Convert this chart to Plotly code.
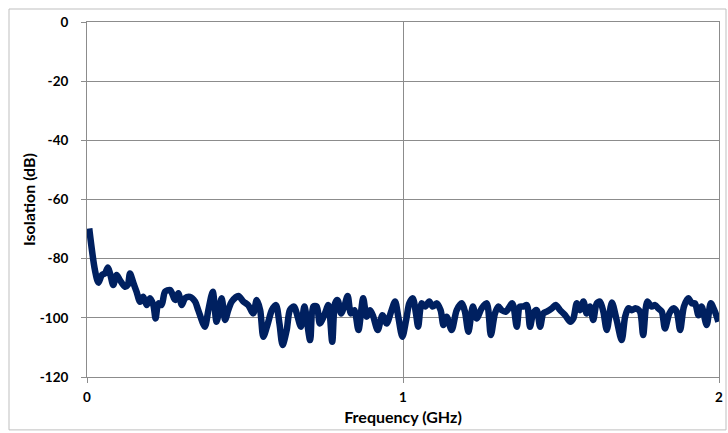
import plotly.graph_objects as go

# Isolation vs frequency
freq_ghz = [
    0.007, 0.025, 0.036, 0.047, 0.057, 0.066, 0.073, 0.083, 0.094, 0.104,
    0.120, 0.129, 0.136, 0.147, 0.157, 0.168, 0.178, 0.189, 0.199, 0.210,
    0.217, 0.226, 0.236, 0.247, 0.263, 0.279, 0.289, 0.300, 0.310, 0.326,
    0.342, 0.352, 0.373, 0.384, 0.398, 0.410, 0.426, 0.437, 0.447, 0.458,
    0.479, 0.495, 0.510, 0.526, 0.537, 0.548, 0.558, 0.571, 0.585, 0.598,
    0.609, 0.619, 0.632, 0.642, 0.655, 0.677, 0.688, 0.706, 0.716, 0.727,
    0.737, 0.753, 0.764, 0.776, 0.785, 0.793, 0.804, 0.814, 0.825, 0.835,
    0.846, 0.859, 0.874, 0.885, 0.896, 0.906, 0.920, 0.935, 0.948, 0.964,
    0.975, 0.985, 0.998, 1.010, 1.020, 1.031, 1.041, 1.048, 1.059, 1.070,
    1.083, 1.094, 1.107, 1.119, 1.128, 1.138, 1.154, 1.170, 1.186, 1.196,
    1.207, 1.221, 1.233, 1.249, 1.265, 1.278, 1.291, 1.302, 1.312, 1.326,
    1.346, 1.360, 1.370, 1.381, 1.392, 1.402, 1.412, 1.423, 1.434, 1.444,
    1.455, 1.471, 1.483, 1.497, 1.513, 1.529, 1.539, 1.550, 1.560, 1.571,
    1.581, 1.592, 1.602, 1.613, 1.623, 1.634, 1.645, 1.661, 1.676, 1.692,
    1.703, 1.713, 1.724, 1.737, 1.750, 1.760, 1.773, 1.787, 1.798, 1.808,
    1.819, 1.829, 1.843, 1.855, 1.866, 1.877, 1.889, 1.903, 1.914, 1.924,
    1.935, 1.945, 1.961, 1.974, 1.987, 1.998,
]

isolation_db = [
    -69.8, -83.8, -88.1, -85.5, -85.0, -83.0, -85.0, -88.9, -85.5, -87.2,
    -89.5, -88.9, -85.0, -88.3, -91.2, -94.6, -92.9, -95.7, -93.4, -95.7,
    -100.2, -95.1, -95.7, -91.2, -90.6, -94.0, -91.7, -95.7, -93.4, -92.9,
    -94.5, -97.4, -103.0, -97.4, -91.2, -101.3, -93.4, -100.7, -97.4, -94.5,
    -92.6, -94.5, -95.7, -98.5, -94.0, -97.4, -106.4, -102.4, -97.4, -95.7,
    -101.9, -109.2, -104.1, -97.4, -96.2, -103.0, -96.2, -107.5, -96.2, -96.2,
    -101.9, -98.5, -95.7, -108.1, -95.1, -94.0, -98.5, -96.2, -92.6, -98.5,
    -97.4, -104.1, -93.4, -99.6, -97.4, -99.6, -104.1, -99.1, -101.9, -97.4,
    -94.5, -99.6, -106.4, -100.7, -95.1, -93.4, -98.5, -103.0, -95.1, -96.2,
    -94.5, -96.2, -95.1, -97.4, -102.4, -99.6, -104.1, -97.4, -95.1, -97.9,
    -104.7, -96.2, -100.2, -96.8, -95.1, -105.8, -98.5, -96.2, -97.4, -97.9,
    -95.1, -103.0, -96.2, -96.2, -95.7, -103.0, -98.5, -97.4, -103.0, -98.5,
    -97.9, -96.8, -95.7, -97.4, -99.1, -101.3, -100.2, -95.1, -97.4, -94.5,
    -98.5, -96.2, -100.7, -95.1, -94.5, -97.9, -104.1, -94.8, -100.7, -107.5,
    -99.6, -96.8, -97.4, -96.8, -97.9, -105.8, -94.5, -96.2, -95.7, -96.8,
    -97.9, -103.6, -98.5, -96.8, -97.9, -104.1, -96.2, -93.4, -95.1, -95.1,
    -99.1, -96.2, -102.4, -95.1, -97.9, -101.3,
]

x_ticks = [0, 1, 2]
y_ticks = [0, -20, -40, -60, -80, -100, -120]

grid = "#8c8c8c"
font = dict(family="Lato, 'Open Sans', sans-serif", size=13.5, color="#000000")

fig = go.Figure()
fig.add_trace(go.Scatter(
    x=freq_ghz, y=isolation_db, mode="lines",
    line=dict(color="#002060", width=6.5, shape="spline", smoothing=0.8),
    showlegend=False, hoverinfo="skip",
))

fig.update_layout(
    width=728, height=433,
    margin=dict(l=87, r=9, t=22, b=56),
    paper_bgcolor="white", plot_bgcolor="white",
    font=font,
    shapes=[dict(type="rect", xref="paper", yref="paper",
                 x0=-0.1234, x1=1.0111, y0=-0.149, y1=1.0366,
                 line=dict(color="#bfbfbf", width=1), layer="below")],
)

fig.update_xaxes(
    range=[0, 2], tickvals=x_ticks, ticktext=[f"<b>{v}</b>" for v in x_ticks],
    showgrid=True, gridcolor=grid, gridwidth=1,
    showline=True, linecolor=grid, linewidth=1, mirror=True,
    ticks="outside", ticklen=5, tickcolor=grid,
    zeroline=False, automargin=False, ticklabelstandoff=3,
    title=dict(text="<b>Frequency (GHz)</b>", standoff=7),
)
fig.update_yaxes(
    range=[-120, 0], tickvals=y_ticks, ticktext=[f"<b>{v}</b>" for v in y_ticks],
    showgrid=True, gridcolor=grid, gridwidth=1,
    showline=True, linecolor=grid, linewidth=1, mirror=True,
    ticks="outside", ticklen=5, tickcolor=grid,
    zeroline=False, automargin=False, ticklabelstandoff=10,
    title=dict(text="<b>Isolation (dB)</b>", standoff=0),
)

# drop the default page margin so the figure sits at the window's corner
fig.write_html("out.html", config={"displayModeBar": False},
               post_script="document.body.style.margin='0';")
